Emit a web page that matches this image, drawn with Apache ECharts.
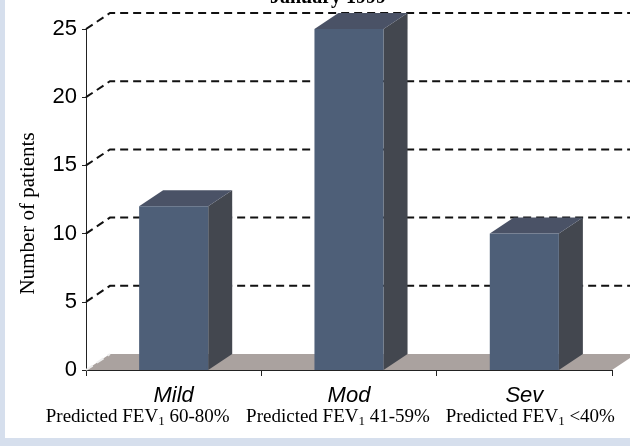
<!DOCTYPE html>
<html><head><meta charset="utf-8">
<script src="https://cdn.jsdelivr.net/npm/echarts@6/dist/echarts.min.js"></script>
<style>html,body{margin:0;padding:0;background:#d6dfed}#c{width:630px;height:446px}</style>
</head><body><div id="c"></div>
<script>
const categories = ['Mild', 'Mod', 'Sev'];
const subLabels = ['60-80%', '41-59%', '<40%'];
const values = [12, 25, 10];
const yTicks = [0, 5, 10, 15, 20, 25];
const titleText = 'January 1999';

const DX = 24, DY = -16;
const chart = echarts.init(document.getElementById('c'));

const leftPad = [[0, 0, 0, 0], [0, 0, 0, 0], [0, 0, 0, 12]];
const rightPad = [[0, 72, 0, 0], [0, 22, 0, 0], [0, 0, 0, 0]];
const rich = {
  a: { fontFamily: 'Liberation Sans', fontStyle: 'italic', fontSize: 22, lineHeight: 21, color: '#000' }
};
leftPad.forEach((p, i) => {
  rich['b' + i] = { fontFamily: 'Liberation Serif', fontSize: 19, lineHeight: 22, color: '#000', padding: p };
  rich['e' + i] = { fontFamily: 'Liberation Serif', fontSize: 19, lineHeight: 22, color: '#000', padding: rightPad[i] };
  rich['s' + i] = { fontFamily: 'Liberation Serif', fontSize: 13, lineHeight: 8, verticalAlign: 'bottom', color: '#000' };
});

chart.setOption({
  backgroundColor: '#d6dfed',
  animation: false,
  graphic: [
    { type: 'rect', z: -10, shape: { x: 5, y: 0, width: 625, height: 438 }, style: { fill: '#ffffff' } },
    { type: 'text', z: 10, x: 328, y: -2, style: { text: titleText, font: 'bold 20px "Liberation Serif"', fill: '#000', align: 'center', verticalAlign: 'middle' } }
  ],
  grid: { left: 86, right: 18, top: 29, bottom: 76 },
  xAxis: {
    type: 'category', data: categories,
    axisLine: { show: true, lineStyle: { color: '#222', width: 1 } },
    axisTick: { show: true, length: 6, lineStyle: { color: '#222' } },
    axisLabel: {
      interval: 0, margin: 15,
      formatter: (val, i) => '{a|' + val + '}\n{b' + i + '|Predicted FEV}{s' + i + '|1}{e' + i + '| ' + subLabels[i] + '}',
      rich: rich
    },
    splitLine: { show: false }
  },
  yAxis: {
    type: 'value', min: 0, max: 25, interval: 5,
    axisLine: { show: true, lineStyle: { color: '#222', width: 1 } },
    axisTick: { show: true, length: 4, lineStyle: { color: '#222' } },
    axisLabel: { fontFamily: 'Liberation Sans', fontSize: 22, color: '#000', margin: 9 },
    splitLine: { show: false },
    name: 'Number of patients', nameLocation: 'middle', nameGap: 47, nameRotate: 90,
    nameTextStyle: { fontFamily: 'Liberation Serif', fontSize: 21, color: '#000', padding: [0, 28, 0, 0] }
  },
  series: [
    {
      type: 'custom', z: 1, clip: false, silent: true,
      data: [[0, 0]],
      renderItem: (params, api) => {
        const cw = api.size([1, 0])[0];
        const p0 = api.coord([0, 0]);
        const p1 = api.coord([categories.length - 1, 0]);
        const l = p0[0] - cw / 2, r = p1[0] + cw / 2, y = p0[1];
        return { type: 'polygon', shape: { points: [[l, y], [l + DX, y + DY], [r + DX, y + DY], [r, y]] }, style: { fill: '#aaa29f' } };
      }
    },
    {
      type: 'custom', z: 2, clip: false, silent: true,
      data: yTicks.map(v => [v]),
      renderItem: (params, api) => {
        const v = api.value(0);
        const cw = api.size([1, 0])[0];
        const p0 = api.coord([0, v]);
        const p1 = api.coord([categories.length - 1, v]);
        const l = p0[0] - cw / 2, r = p1[0] + cw / 2, y = p0[1];
        const pts = v === 0 ? [[l, y], [l + DX, y + DY]] : [[l, y], [l + DX, y + DY], [r + DX, y + DY]];
        return { type: 'polyline', shape: { points: pts }, style: { stroke: v === 0 ? '#eeeeee' : '#111111', lineWidth: 2, lineDash: [8, 5], fill: null } };
      }
    },
    {
      type: 'custom', z: 3, clip: false,
      data: values.map((v, i) => [i, v]),
      renderItem: (params, api) => {
        const x = api.value(0), v = api.value(1);
        const top = api.coord([x, v]), base = api.coord([x, 0]);
        const hw = api.size([1, 0])[0] * 0.197;
        const l = top[0] - hw, r = top[0] + hw, t = top[1], b = base[1];
        return {
          type: 'group', children: [
            { type: 'polygon', shape: { points: [[r, t], [r + DX, t + DY], [r + DX, b + DY], [r, b]] }, style: { fill: '#43474f' } },
            { type: 'polygon', shape: { points: [[l, t], [l + DX, t + DY], [r + DX, t + DY], [r, t]] }, style: { fill: '#4a5266' } },
            { type: 'rect', shape: { x: l, y: t, width: r - l, height: b - t }, style: { fill: '#4e5f78' } }
          ]
        };
      }
    }
  ]
});
</script></body></html>
